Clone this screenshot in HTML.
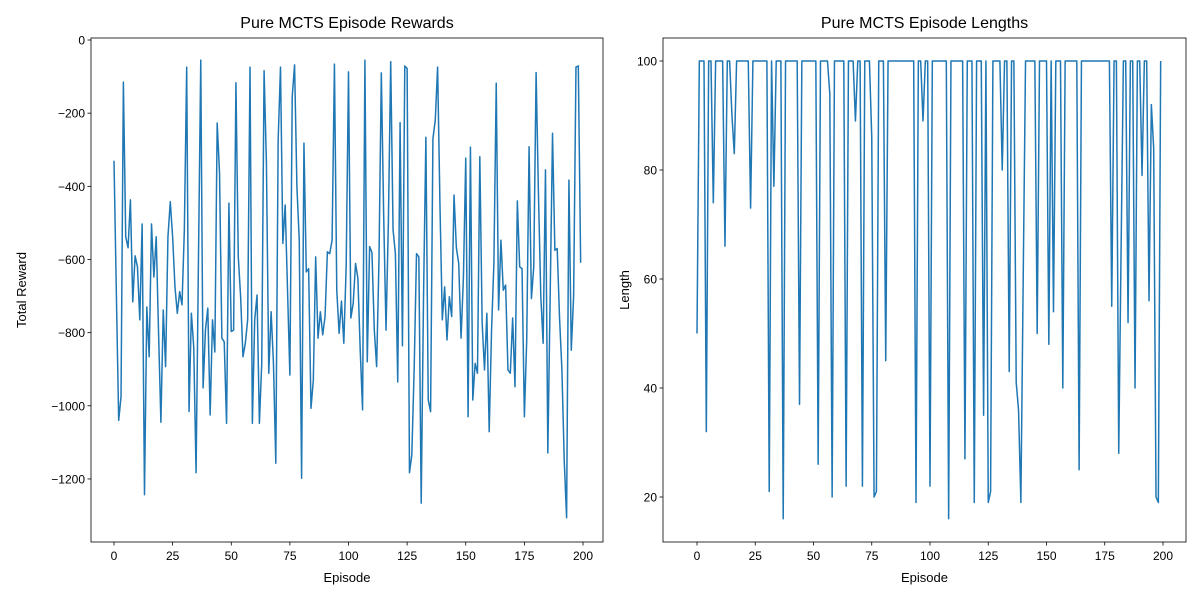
<!DOCTYPE html>
<html><head><meta charset="utf-8"><style>
body{margin:0;background:#fff;}
svg{display:block;font-family:"Liberation Sans","DejaVu Sans",sans-serif;}
</style></head><body>
<svg id="c" width="1200" height="600"></svg>
<script>
const episodes = Array.from({length:200},(_,i)=>i);
const rewards = [-330,-690,-1040,-975,-115,-538,-568,-437,-716,-590,-620,-765,-503,-1243,-730,-866,-503,-648,-538,-800,-1045,-738,-893,-538,-442,-538,-675,-747,-688,-724,-519,-74,-1016,-747,-839,-1183,-609,-55,-951,-793,-733,-1025,-765,-853,-227,-364,-815,-825,-1048,-446,
-797,-793,-117,-593,-702,-866,-829,-765,-74,-1048,-765,-697,-1048,-884,-84,-337,-911,-743,-884,-1157,-273,-74,-556,-451,-684,-916,-155,-68,-401,-547,-1198,-282,-634,-625,-1007,-930,-593,-815,-743,-806,-756,-579,-584,-547,-66,-684,-802,-714,-829,-620,-87,
-760,-720,-611,-651,-848,-1011,-55,-880,-565,-581,-793,-893,-600,-90,-480,-793,-500,-59,-519,-584,-935,-226,-836,-71,-78,-1183,-1134,-900,-584,-593,-1266,-700,-266,-984,-1016,-270,-219,-74,-450,-765,-675,-820,-702,-756,-424,-568,-611,-815,-650,-323,-1030,
-293,-984,-884,-911,-319,-775,-902,-747,-1071,-793,-611,-118,-738,-547,-684,-670,-902,-911,-760,-948,-440,-620,-625,-1030,-820,-292,-707,-620,-89,-420,-700,-829,-355,-1129,-700,-255,-575,-570,-760,-900,-1150,-1306,-383,-848,-700,-74,-71,-609];
const lengths = [50,100,100,100,32,100,100,74,100,100,100,100,66,100,100,90,83,100,100,100,100,100,100,73,100,100,100,100,100,100,100,21,100,77,100,100,100,16,100,100,100,100,100,100,37,100,100,100,100,100,100,100,26,100,100,100,100,94,20,100,100,100,100,100,22,100,100,100,89,100,100,22,100,100,100,86,20,21,100,100,100,45,100,100,100,100,100,100,100,100,100,100,100,100,19,100,100,89,100,100,22,100,100,100,100,100,100,100,16,100,100,100,100,100,100,27,100,100,100,19,100,100,100,35,100,19,21,100,100,100,100,80,100,100,43,100,100,41,36,19,60,100,100,100,100,100,50,100,100,100,100,48,100,54,100,100,100,40,100,100,100,100,100,100,25,100,100,100,100,100,100,100,100,100,100,100,100,100,55,100,100,28,65,100,100,52,100,100,40,100,100,79,100,100,56,92,84,20,19,100];
const xTicks = [0,25,50,75,100,125,150,175,200];
const rewardTicks = [0,-200,-400,-600,-800,-1000,-1200];
const lengthTicks = [20,40,60,80,100];

const NS="http://www.w3.org/2000/svg";
const svg=document.getElementById('c');
function mk(tag,attrs,parent){const e=document.createElementNS(NS,tag);for(const k in attrs)e.setAttribute(k,attrs[k]);(parent||svg).appendChild(e);return e;}
function fmt(v){return v<0?'\u2212'+(-v):String(v);}

function panel(cfg){
  const g=mk('g',{});
  
  
  const X=i=>cfg.xa+i*cfg.xs;
  const Y=v=>cfg.ya+(cfg.yref-v)*cfg.ys;
  xTicks.forEach(t=>{
    const x=X(t);
    const l=mk('line',{x1:x,x2:x,y1:cfg.y1,y2:cfg.y1+3.5,stroke:'#000','stroke-width':0.8},g);
    
    
    const tx=mk('text',{x:x,y:cfg.y1+18,'font-size':12,'text-anchor':'middle',fill:'#000'},g);
    tx.textContent=fmt(t);
    
    
  });
  cfg.yticks.forEach(t=>{
    const y=Y(t);
    const l=mk('line',{x1:cfg.x0-3.5,x2:cfg.x0,y1:y,y2:y,stroke:'#000','stroke-width':0.8},g);
    
    
    const tx=mk('text',{x:cfg.x0-6,y:y+4.5,'font-size':12,'text-anchor':'end',fill:'#000'},g);
    tx.textContent=fmt(t);
    
    
  });
  const d=cfg.data.map((v,i)=>(i?'L':'M')+X(episodes[i]).toFixed(2)+' '+Y(v).toFixed(2)).join(' ');
  const p=mk('path',{d:d,fill:'none',stroke:'#1f77b4','stroke-width':1.5,'stroke-linejoin':'round'},g);
  
  
  const r=mk('rect',{x:cfg.x0,y:cfg.y0,width:cfg.x1-cfg.x0,height:cfg.y1-cfg.y0,fill:'none',stroke:'#000','stroke-width':0.8},g);
  
  
  const t=mk('text',{x:(cfg.x0+cfg.x1)/2,y:28,'font-size':16,'text-anchor':'middle',fill:'#000'},g);
  t.textContent=cfg.title;
  
  
  const xl=mk('text',{x:(cfg.x0+cfg.x1)/2,y:582,'font-size':13,'text-anchor':'middle',fill:'#000'},g);
  xl.textContent='Episode';
  
  
  const yl=mk('text',{x:0,y:0,'font-size':13,'text-anchor':'middle',fill:'#000',transform:`translate(${cfg.ylx},${(cfg.y0+cfg.y1)/2}) rotate(-90)`},g);
  yl.textContent=cfg.ylabel;
  
  
}
panel({name:'rewards-panel',lineName:'rewards-line',data:rewards,yticks:rewardTicks,title:'Pure MCTS Episode Rewards',ylabel:'Total Reward',ylx:26,
  x0:91,x1:603,y0:38,y1:542,xa:114,xs:2.345,ya:40,yref:0,ys:0.3658});
panel({name:'lengths-panel',lineName:'lengths-line',data:lengths,yticks:lengthTicks,title:'Pure MCTS Episode Lengths',ylabel:'Length',ylx:629,
  x0:663,x1:1186,y0:38,y1:542,xa:697,xs:2.33,ya:61,yref:100,ys:5.45});
</script>
</body></html>
